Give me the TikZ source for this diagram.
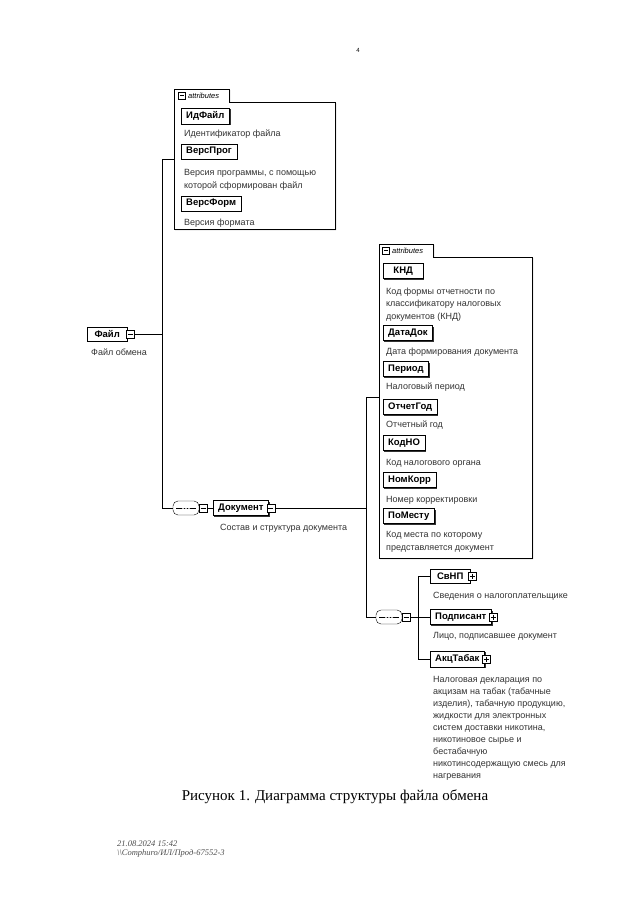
\documentclass[tikz,border=0pt]{standalone}
\usepackage{fontspec}
\setmainfont{Liberation Serif}
\setsansfont{Liberation Sans}
\usetikzlibrary{shadows}
\tikzset{elem/.style = {draw, fill=white, anchor=west, font=\sffamily\bfseries\fontsize{9.5}{10}\selectfont,
                        inner xsep=5pt, minimum height=14.5pt, minimum width=40pt,
                        drop shadow={shadow xshift=1.2pt, shadow yshift=-1.2pt, fill=black!80, opacity=1}}}
\tikzset{desc/.style = {anchor=base west, inner sep=0pt, align=left, text=black!80,
                        font=\sffamily\fontsize{9}{12.5}\selectfont}}
\tikzset{attrbox/.style = {draw, fill=white, drop shadow={shadow xshift=1pt, shadow yshift=-1pt, fill=black!50, opacity=1}}}
\tikzset{tabtext/.style = {anchor=west, inner sep=0pt, font=\sffamily\itshape\fontsize{7.5}{8}\selectfont}}
\tikzset{minusbox/.style = {draw, fill=white, minimum size=8pt, inner sep=0pt,
                        path picture={\draw ([xshift=1.5pt]path picture bounding box.west) -- ([xshift=-1.5pt]path picture bounding box.east);}}}
\tikzset{plusbox/.style = {draw, fill=white, minimum size=8pt, inner sep=0pt,
                        path picture={\draw ([xshift=1.5pt]path picture bounding box.west) -- ([xshift=-1.5pt]path picture bounding box.east);
                                      \draw ([yshift=-1.5pt]path picture bounding box.north) -- ([yshift=1.5pt]path picture bounding box.south);}}}
\tikzset{seq/.style = {draw, fill=white, rounded corners=5pt, minimum width=26pt, minimum height=14pt, inner sep=0pt,
                        path picture={\draw ([xshift=3pt]path picture bounding box.west) -- ([xshift=-3pt]path picture bounding box.east);
                                      \foreach \dx in {-3,0,3} \fill ([xshift=\dx pt]path picture bounding box.center) circle (1pt);}}}

\begin{document}
\begin{tikzpicture}[x=1pt, y=-1pt]
  \useasboundingbox (0,0) rectangle (640,905);
  \node[font=\sffamily\fontsize{6}{7}\selectfont] (pagenum) at (358,50) {4};

  % attribute boxes
  \draw[attrbox] (174,229) -- (174,89) -- (229,89) -- (229,102) -- (335,102) -- (335,229) -- cycle;
  \node[minusbox, minimum size=7pt] (tabA) at (182,95.5) {};
  \node[tabtext] (tabAt) at (188,95.5) {attributes};
  \coordinate (attrA) at (174,159);

  \draw[attrbox] (379,558) -- (379,244) -- (433,244) -- (433,257) -- (532,257) -- (532,558) -- cycle;
  \node[minusbox, minimum size=7pt] (tabB) at (386,250.5) {};
  \node[tabtext] (tabBt) at (392,250.5) {attributes};
  \coordinate (attrB) at (379,397);

  % root
  \node[elem] (file) at (87,334) {Файл};
  \node[minusbox] (fileM) at ([xshift=3pt]file.east) {};
  \node[desc] (fileD) at (91,355) {Файл обмена};

  \node[elem] (idfile) at (181,116) {ИдФайл};
  \node[desc] (idfileD) at (184,136) {Идентификатор файла};
  \node[elem] (versprog) at (181,151.5) {ВерсПрог};
  \node[desc] (versprogD) at (184,188) {Версия программы, с помощью\\которой сформирован файл};
  \node[elem] (versform) at (181,203.5) {ВерсФорм};
  \node[desc] (versformD) at (184,225) {Версия формата};

  \node[seq] (seqA) at (186,508) {};
  \node[minusbox] (seqAm) at (203,508) {};
  \node[elem] (doc) at (213,508) {Документ};
  \node[minusbox] (docM) at ([xshift=2pt]doc.east) {};
  \node[desc] (docD) at (220,530) {Состав и структура документа};

  % attributes of Документ
  \node[elem] (knd) at (383,271) {КНД};
  \node[desc] (kndD) at (386,319) {Код формы отчетности по\\классификатору налоговых\\документов (КНД)};
  \node[elem] (datadok) at (383,333) {ДатаДок};
  \node[desc] (datadokD) at (386,354) {Дата формирования документа};
  \node[elem] (period) at (383,369) {Период};
  \node[desc] (periodD) at (386,389) {Налоговый период};
  \node[elem] (otchgod) at (383,407) {ОтчетГод};
  \node[desc] (otchgodD) at (386,427) {Отчетный год};
  \node[elem] (kodno) at (383,443) {КодНО};
  \node[desc] (kodnoD) at (386,465) {Код налогового органа};
  \node[elem] (nomkorr) at (383,480) {НомКорр};
  \node[desc] (nomkorrD) at (386,502) {Номер корректировки};
  \node[elem] (pomestu) at (383,516) {ПоМесту};
  \node[desc] (pomestuD) at (386,550) {Код места  по которому\\представляется документ};

  % children of Документ
  \node[seq] (seqB) at (389,617) {};
  \node[minusbox] (seqBm) at (406,617) {};
  \node[elem] (svnp) at (430,576) {СвНП};
  \node[plusbox] (svnpP) at ([xshift=2pt]svnp.east) {};
  \node[desc] (svnpD) at (433,598) {Сведения о налогоплательщике};
  \node[elem] (podp) at (430,617) {Подписант};
  \node[plusbox] (podpP) at ([xshift=2pt]podp.east) {};
  \node[desc] (podpD) at (433,638) {Лицо, подписавшее документ};
  \node[elem] (akc) at (430,659) {АкцТабак};
  \node[plusbox] (akcP) at ([xshift=2pt]akc.east) {};
  \node[desc, font=\sffamily\fontsize{9}{12}\selectfont] (akcD) at (433,778) {Налоговая декларация по\\акцизам на табак (табачные\\изделия), табачную продукцию,\\жидкости для электронных\\систем доставки никотина,\\никотиновое сырье и\\бестабачную\\никотинсодержащую смесь для\\нагревания};

  % connectors
  \coordinate (trunkA) at (162,159);
  \draw (trunkA) -- (attrA);
  \draw (trunkA) -- (trunkA |- seqA.west) -- (seqA.west);
  \draw (fileM.east) -- (fileM.east -| trunkA);
  \draw (seqAm.east) -- (doc.west);
  \coordinate (trunkB) at (366,397);
  \draw (trunkB) -- (attrB);
  \draw (docM.east) -- (docM.east -| trunkB);
  \draw (trunkB) -- (trunkB |- seqB.west) -- (seqB.west);
  \coordinate (fork) at (418,576);
  \draw (seqBm.east) -- (podp.west);
  \draw (svnp.west) -- (fork) -- (fork |- akc.west) -- (akc.west);

  \node[font=\fontsize{15}{17}\selectfont] (caption) at (335,797) {Рисунок 1. Диаграмма структуры файла обмена};
  \node[anchor=base west, inner sep=0pt, align=left, font=\itshape\fontsize{8.5}{9}\selectfont, text=black!70] (stamp) at (117,855)
    {21.08.2024 15:42\\\textbackslash\textbackslash Comphuro/ИЛ/Прод-67552-3};
\end{tikzpicture}
\end{document}
